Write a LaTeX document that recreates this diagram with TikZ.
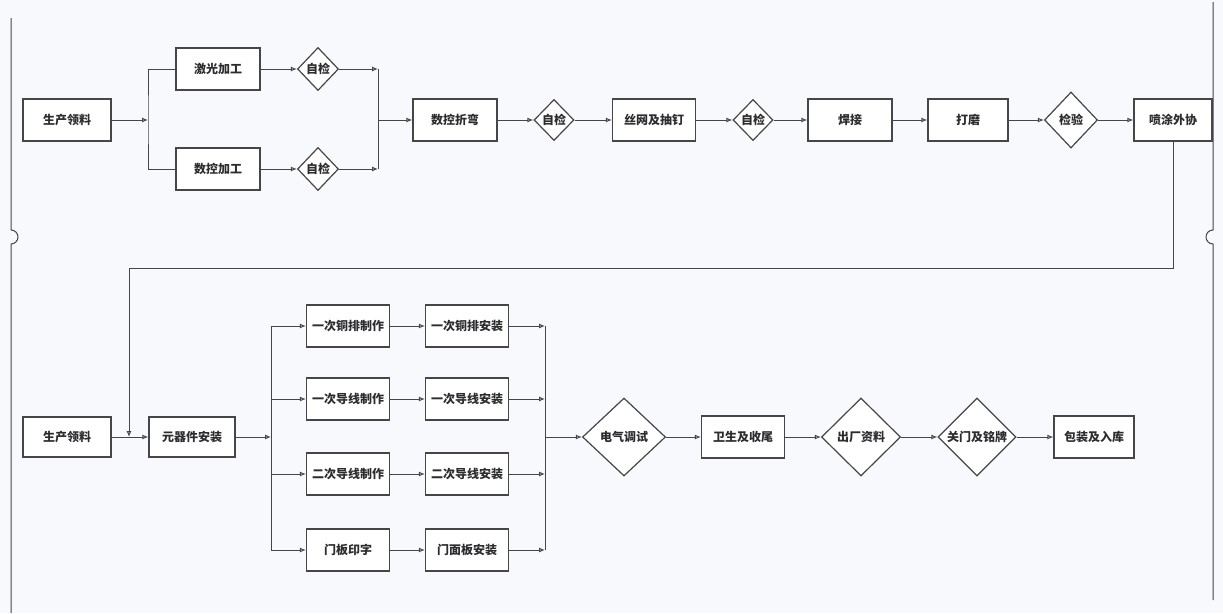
\documentclass[tikz,border=0pt]{standalone}
\usepackage{fontspec}
\newfontfamily\cjk{Noto Sans CJK SC}
\usetikzlibrary{shapes.geometric,arrows.meta,calc}
\definecolor{ink}{RGB}{70,70,72}
\definecolor{txt}{RGB}{45,45,48}
\definecolor{paper}{RGB}{248,249,252}
\tikzset{
  box/.style={draw=ink,line width=1.2pt,fill=white,minimum width=84pt,minimum height=42pt,inner sep=0pt,
    font=\cjk\bfseries\fontsize{12pt}{13pt}\selectfont,text=txt},
  dia/.style={draw=ink,line width=1.2pt,fill=white,diamond,inner sep=0pt,aspect=1,
    font=\cjk\bfseries\fontsize{12pt}{13pt}\selectfont,text=txt},
  conn/.style={draw=ink,line width=1pt},
  arr/.style={conn,-{Latex[length=6pt,width=5pt,open]}},
  border/.style={draw=ink,line width=1pt}
}
\begin{document}
\begin{tikzpicture}[x=1pt,y=-1pt]
\fill[paper] (0,0) rectangle (1223,613);
\useasboundingbox (0,0) rectangle (1223,613);
% page border with punch marks
\draw[border] (11,18) -- (11,230) arc[start angle=-90,end angle=90,radius=7] -- (11,613);
\draw[border] (1213,2) -- (1213,230) arc[start angle=-90,end angle=-270,radius=7] -- (1213,600);
% top row
\node[box,minimum width=88pt] (t1) at (67,120) {生产领料};
\node[box] (t2a) at (218,69) {激光加工};
\node[box] (t2b) at (218,169) {数控加工};
\node[dia,minimum width=41pt,minimum height=43pt] (d1a) at (318,69) {自检};
\node[dia,minimum width=41pt,minimum height=43pt] (d1b) at (318,169) {自检};
\node[box] (t3) at (455,120) {数控折弯};
\node[dia,minimum width=40pt,minimum height=41pt] (d2) at (554,120) {自检};
\node[box,minimum width=83pt] (t4) at (654,120) {丝网及抽钉};
\node[dia,minimum width=40pt,minimum height=41pt] (d3) at (753,120) {自检};
\node[box] (t5) at (850,120) {焊接};
\node[box,minimum width=80pt] (t6) at (968,120) {打磨};
\node[dia,minimum width=53pt,minimum height=56pt] (d4) at (1071,120) {检验};
\node[box,minimum width=78pt] (t7) at (1173,120) {喷涂外协};
\coordinate (sp) at (148,120);
\coordinate (mg) at (378,120);
\draw[arr] (t1) -- (sp);
\draw[conn] (t2a.west) -| (sp) |- (t2b.west);
\draw[arr] (t2a) -- (d1a);
\draw[arr] (t2b) -- (d1b);
\draw[arr] (d1a.east) -- (d1a.east -| mg);
\draw[arr] (d1b.east) -- (d1b.east -| mg);
\draw[conn] (d1a.east -| mg) -- (d1b.east -| mg);
\draw[arr] (mg) -- (t3);
\draw[arr] (t3) -- (d2);
\draw[arr] (d2) -- (t4);
\draw[arr] (t4) -- (d3);
\draw[arr] (d3) -- (t5);
\draw[arr] (t5) -- (t6);
\draw[arr] (t6) -- (d4);
\draw[arr] (d4) -- (t7);
% bottom row
\node[box,minimum width=88pt,minimum height=40pt] (b1) at (67,437) {生产领料};
\node[box,minimum width=86pt,minimum height=40pt] (b2) at (192,437) {元器件安装};
\node[box,minimum width=83pt] (l1) at (348,326) {一次铜排制作};
\node[box,minimum width=83pt] (l2) at (348,399) {一次导线制作};
\node[box,minimum width=83pt] (l3) at (348,474) {二次导线制作};
\node[box,minimum width=83pt] (l4) at (348,550) {门板印字};
\node[box,minimum width=83pt] (r1) at (467,326) {一次铜排安装};
\node[box,minimum width=83pt] (r2) at (467,399) {一次导线安装};
\node[box,minimum width=83pt] (r3) at (467,474) {二次导线安装};
\node[box,minimum width=83pt] (r4) at (467,550) {门面板安装};
\node[dia,minimum width=83pt,minimum height=78pt] (e1) at (624,437) {电气调试};
\node[box,minimum width=83pt] (e2) at (743,437) {卫生及收尾};
\node[dia,minimum width=79pt,minimum height=78pt] (e3) at (861,437) {出厂资料};
\node[dia,minimum width=78pt,minimum height=78pt] (e4) at (977,437) {关门及铭牌};
\node[box,minimum width=80pt] (e5) at (1094,437) {包装及入库};
\coordinate (jn) at (129,437);
\coordinate (fb) at (129,268);
\coordinate (bs) at (271,437);
\coordinate (bm) at (545,437);
\draw[arr] (t7.south) |- (fb) -- (jn);
\draw[arr] (b1) -- (b2);
\draw[arr] (b2) -- (bs);
\draw[conn] (bs |- l1) -- (bs |- l4);
\draw[conn] (bm |- r1) -- (bm |- r4);
\foreach \i in {1,2,3,4}{
  \draw[arr] (bs |- l\i) -- (l\i);
  \draw[arr] (l\i) -- (r\i);
  \draw[arr] (r\i) -- (bm |- r\i);
}
\draw[arr] (bm) -- (e1);
\draw[arr] (e1) -- (e2);
\draw[arr] (e2) -- (e3);
\draw[arr] (e3) -- (e4);
\draw[arr] (e4) -- (e5);
\end{tikzpicture}
\end{document}
